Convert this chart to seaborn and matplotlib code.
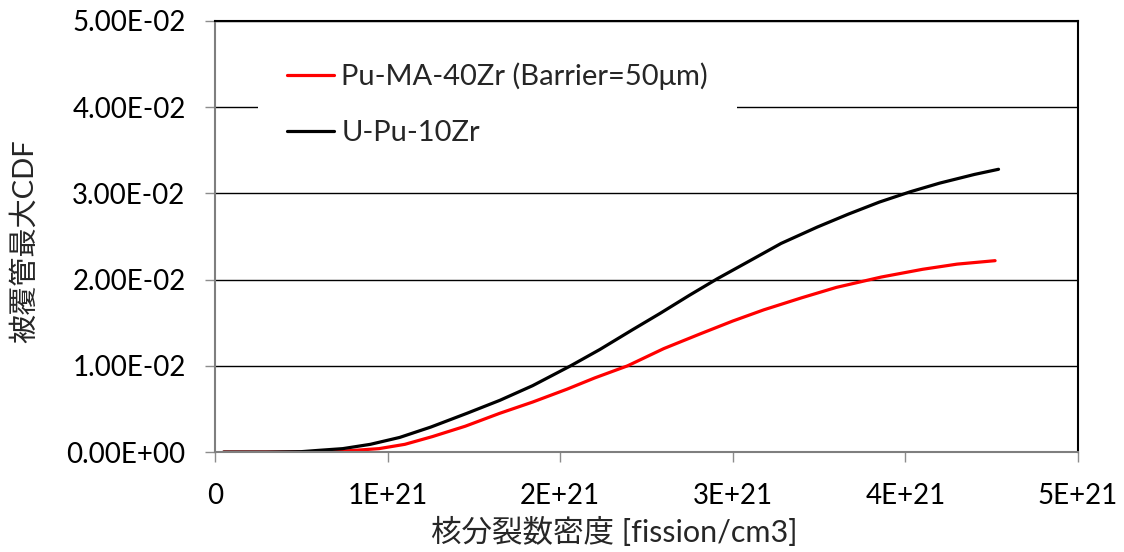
import numpy as np
import pandas as pd
import matplotlib
matplotlib.use("Agg")
import matplotlib.pyplot as plt
import seaborn as sns
from matplotlib.ticker import FuncFormatter

# Data (x in units of 1E+21 fission/cm3, y in units of 1E-02)
black_x = [0.05, 0.3, 0.5, 0.6, 0.74, 0.9, 1.07, 1.25, 1.46, 1.65, 1.84, 2.06, 2.23, 2.42,
           2.58, 2.75, 2.91, 3.1, 3.28, 3.49, 3.67, 3.85, 4.03, 4.2, 4.4, 4.54]
black_y = [0.0, 0.0, 0.005, 0.02, 0.04, 0.09, 0.17, 0.29, 0.45, 0.6, 0.77, 1.0, 1.19, 1.42,
           1.61, 1.82, 2.01, 2.22, 2.42, 2.61, 2.76, 2.90, 3.02, 3.12, 3.22, 3.28]
red_x = [0.05, 0.5, 0.7, 0.95, 1.1, 1.26, 1.45, 1.65, 1.84, 2.04, 2.2, 2.39, 2.6, 2.81,
         3.0, 3.18, 3.4, 3.6, 3.86, 4.1, 4.3, 4.52]
red_y = [0.0, 0.0, 0.005, 0.04, 0.09, 0.18, 0.3, 0.45, 0.58, 0.73, 0.86, 1.0, 1.2, 1.37,
         1.52, 1.65, 1.79, 1.91, 2.03, 2.12, 2.18, 2.22]
series_names = ["Pu-MA-40Zr (Barrier=50\u03bcm)", "U-Pu-10Zr"]
x_ticks = [0, 1e21, 2e21, 3e21, 4e21, 5e21]
y_ticks = [0.0, 0.01, 0.02, 0.03, 0.04, 0.05]

df = pd.concat([
    pd.DataFrame({"x": np.array(red_x) * 1e21, "y": np.array(red_y) * 1e-2, "series": series_names[0]}),
    pd.DataFrame({"x": np.array(black_x) * 1e21, "y": np.array(black_y) * 1e-2, "series": series_names[1]}),
])

sns.set_style("white")
plt.rcParams['font.family'] = ['Lato', 'Noto Sans CJK JP', 'DejaVu Sans']

fig = plt.figure(figsize=(11.24, 5.52), dpi=100)
ax = fig.add_axes([0.1913, 0.181, 0.7677, 0.781])

sns.lineplot(data=df, x="x", y="y", hue="series", hue_order=series_names,
             palette={series_names[0]: "#ff0000", series_names[1]: "#000000"},
             linewidth=2.3, ax=ax, sort=False, estimator=None)

ax.set_xlim(0, 5e21)
ax.set_ylim(0, 0.05)
ax.set_xticks(x_ticks)
ax.set_yticks(y_ticks)
ax.xaxis.set_major_formatter(FuncFormatter(lambda v, p: "0" if v == 0 else f"{v:.0E}".replace("E+0", "E+")))
ax.yaxis.set_major_formatter(FuncFormatter(lambda v, p: f"{v:.2E}"))

ax.yaxis.grid(True, color="black", linewidth=1.0)
ax.xaxis.grid(False)
ax.set_axisbelow(True)

for side in ["top", "right"]:
    ax.spines[side].set_color("black")
    ax.spines[side].set_linewidth(1.5)
for side in ["left", "bottom"]:
    ax.spines[side].set_color("#7f7f7f")
    ax.spines[side].set_linewidth(1.5)

ax.tick_params(axis="both", which="major", direction="out", length=7.2, width=1,
               color="#8c8c8c", labelsize=20, labelcolor="black")
ax.tick_params(axis="x", pad=15, bottom=True)
ax.tick_params(axis="y", pad=14, left=True)

ax.set_xlabel("核分裂数密度 [fission/cm3]", fontsize=22)
ax.set_ylabel("被覆管最大CDF", fontsize=21)
ax.xaxis.set_label_coords(0.463, -0.151)
ax.yaxis.set_label_coords(-0.205, 0.49)

leg = ax.legend(loc="upper left", bbox_to_anchor=(0.05, 0.972), borderaxespad=0,
                frameon=True, fontsize=21, labelspacing=1.05, handlelength=1.6,
                handletextpad=0.25, borderpad=1.0)
leg.get_frame().set_facecolor("white")
leg.get_frame().set_edgecolor("none")
leg.get_frame().set_alpha(1.0)
leg.get_frame().set_boxstyle("square", pad=0)
for line in leg.get_lines():
    line.set_linewidth(2.3)

fig.savefig("out.png", dpi=100, facecolor="white")
